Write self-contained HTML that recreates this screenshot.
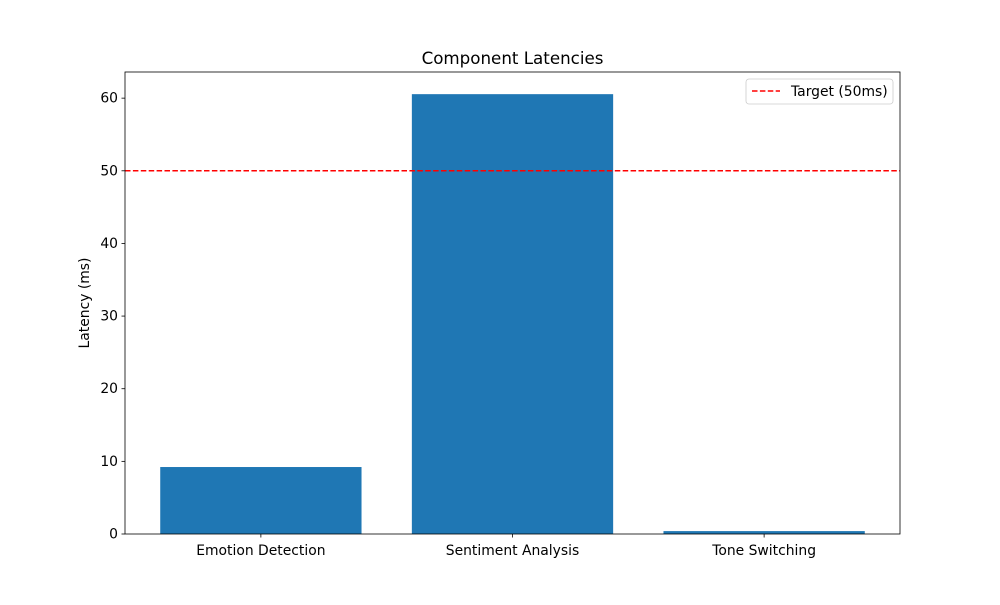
<!DOCTYPE html>
<html><head><meta charset="utf-8"><style>
body{margin:0;background:#fff;}
svg{font-family:"DejaVu Sans","Liberation Sans",sans-serif;}
</style></head><body>
<svg id="chart" width="1000" height="600"></svg>
<script>
const categories = ["Emotion Detection", "Sentiment Analysis", "Tone Switching"];
const latencies = [9.22, 60.55, 0.4];
const yTicks = [0, 10, 20, 30, 40, 50, 60];
const targetValue = [50];

const NS = "http://www.w3.org/2000/svg";
const svg = document.getElementById("chart");
const L = 125, R = 900, T = 72, B = 534;
const yMax = 63.6;
const xMin = -0.54, xMax = categories.length - 1 + 0.54;
const x = v => L + (v - xMin) / (xMax - xMin) * (R - L);
const bw = x(0.8) - x(0);
const y = v => B - v / yMax * (B - T);
function mk(tag, attrs, text) {
  const e = document.createElementNS(NS, tag);
  for (const k in attrs) e.setAttribute(k, attrs[k]);
  if (text !== undefined) e.textContent = text;
  svg.appendChild(e);
  return e;
}
latencies.forEach((v, i) => {
  const r = mk("rect", {x: x(i) - bw / 2, y: y(v), width: bw, height: B - y(v), fill: "#1f77b4"});
  
  
});
const tl = mk("line", {x1: L, x2: R, y1: y(targetValue[0]), y2: y(targetValue[0]), stroke: "red", "stroke-width": 1.5, "stroke-dasharray": "5.5,2.4"});


const frame = mk("rect", {x: L, y: T, width: R - L, height: B - T, fill: "none", stroke: "#000", "stroke-width": 0.8});


yTicks.forEach(t => {
  mk("line", {x1: L - 3.5, x2: L, y1: y(t), y2: y(t), stroke: "#000", "stroke-width": 0.8});
  const lb = mk("text", {x: L - 7, y: y(t) + 4.5, "text-anchor": "end", "font-size": 13.9}, t);
  
  
});
categories.forEach((c, i) => {
  mk("line", {x1: x(i), x2: x(i), y1: B, y2: B + 3.5, stroke: "#000", "stroke-width": 0.8});
  const lb = mk("text", {x: x(i), y: B + 21, "text-anchor": "middle", "font-size": 13.9}, c);
  
  
});
const yt = mk("text", {x: 0, y: 0, transform: "translate(89,303) rotate(-90)", "text-anchor": "middle", "font-size": 13.9}, "Latency (ms)");


const title = mk("text", {x: (L + R) / 2, y: 64, "text-anchor": "middle", "font-size": 16.7}, "Component Latencies");


const lg = mk("rect", {x: 746, y: 79, width: 147, height: 25, rx: 3, fill: "#fff", stroke: "#ccc", "stroke-width": 0.8});


mk("line", {x1: 752, x2: 780, y1: 91, y2: 91, stroke: "red", "stroke-width": 1.5, "stroke-dasharray": "5.5,2.4"});
const lt = mk("text", {x: 791, y: 96, "font-size": 13.9}, "Target (50ms)");


</script>
</body></html>
